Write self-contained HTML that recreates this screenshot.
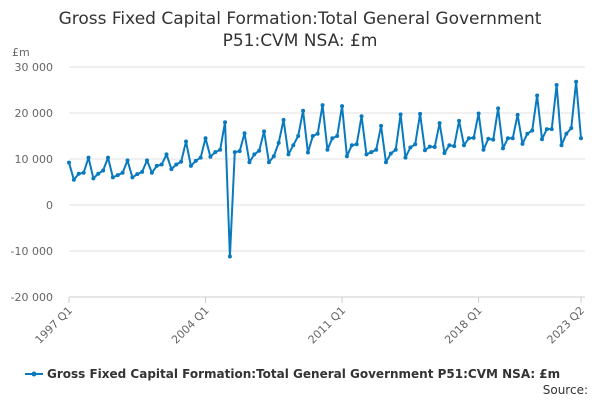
<!DOCTYPE html>
<html><head><meta charset="utf-8"><style>
body{margin:0;background:#fff;font-family:"Liberation Sans","DejaVu Sans",sans-serif;}
svg text{font-family:"DejaVu Sans","Liberation Sans",sans-serif;}
</style></head><body>
<svg id="c" width="600" height="400">
<text x="300" y="24" text-anchor="middle" font-size="17" fill="#333">Gross Fixed Capital Formation:Total General Government</text>
<text x="300" y="46" text-anchor="middle" font-size="17" fill="#333">P51:CVM NSA: £m</text>
<text x="12" y="56" font-size="11" fill="#666">£m</text>
<g id="grid"></g><g id="xax"></g><g id="series"></g>
<g>
<line x1="25" y1="374" x2="43" y2="374" stroke="#0a7abf" stroke-width="2"/>
<circle cx="34" cy="374" r="2.5" fill="#0a7abf"/>
<text x="47" y="378" font-size="12" font-weight="bold" fill="#333">Gross Fixed Capital Formation:Total General Government P51:CVM NSA: £m</text>
</g>
<text x="588" y="394" text-anchor="end" font-size="12" fill="#333">Source:</text>
</svg>
<script>
const yTicks=[30000,20000,10000,0,-10000,-20000];
const yTickLabels=["30 000","20 000","10 000","0","-10 000","-20 000"];
const xTickIndices=[0,28,56,84,105];
const xTickLabels=["1997 Q1","2004 Q1","2011 Q1","2018 Q1","2023 Q2"];
const values=[9200,5500,6800,7000,10300,5800,6800,7500,10300,6000,6500,7000,9700,6000,6700,7200,9700,7000,8500,8800,11000,7800,8800,9400,13800,8500,9600,10300,14500,10500,11500,12000,18000,-11200,11500,11700,15600,9300,11000,11800,16000,9300,10600,13500,18500,11000,13000,15000,20500,11400,15000,15500,21700,12000,14500,15000,21500,10600,13000,13200,19300,11000,11500,12000,17200,9300,11200,12000,19700,10300,12500,13200,19800,11900,12700,12600,17800,11300,13000,12800,18300,13000,14500,14600,19900,12000,14400,14200,21000,12300,14500,14500,19600,13300,15500,16200,23800,14300,16500,16500,26100,13000,15500,16700,26800,14500];
const NS="http://www.w3.org/2000/svg";
const x0=69,x1=581,y0=67,y1=297;
const xs=i=>x0+(x1-x0)*i/(values.length-1);
const ys=v=>y0+(30000-v)*(y1-y0)/50000;
function mk(t,a,p){const e=document.createElementNS(NS,t);for(const k in a)e.setAttribute(k,a[k]);p.appendChild(e);return e;}
const grid=document.getElementById('grid');
yTicks.forEach((v,i)=>{
 const l=mk('line',{x1:x0,x2:x1+4,y1:ys(v),y2:ys(v),stroke:'#e0e0e0','stroke-width':1},grid);
 
 
 const t=mk('text',{x:53,y:ys(v)+4,'text-anchor':'end','font-size':11,fill:'#666'},grid);
 t.textContent=yTickLabels[i];
 
 
});
const xax=document.getElementById('xax');
const ax=mk('line',{x1:x0,x2:x1+4,y1:y1,y2:y1,stroke:'#ccc'},xax);


xTickIndices.forEach((idx,i)=>{
 const x=xs(idx);
 const tk=mk('line',{x1:x,x2:x,y1:y1,y2:y1+6,stroke:'#ccc'},xax);
 
 
 const t=mk('text',{x:x+4,y:y1+14,'text-anchor':'end','font-size':11,fill:'#666',transform:`rotate(-45 ${x+4} ${y1+14})`},xax);
 t.textContent=xTickLabels[i];
 
 
});
const s=document.getElementById('series');
const pl=mk('polyline',{points:values.map((v,i)=>xs(i)+','+ys(v)).join(' '),fill:'none',stroke:'#0a7abf','stroke-width':2,'stroke-linejoin':'round'},s);


values.forEach((v,i)=>{
 const c=mk('circle',{cx:xs(i),cy:ys(v),r:2,fill:'#0a7abf'},s);
 
 
});
</script>
</body></html>
